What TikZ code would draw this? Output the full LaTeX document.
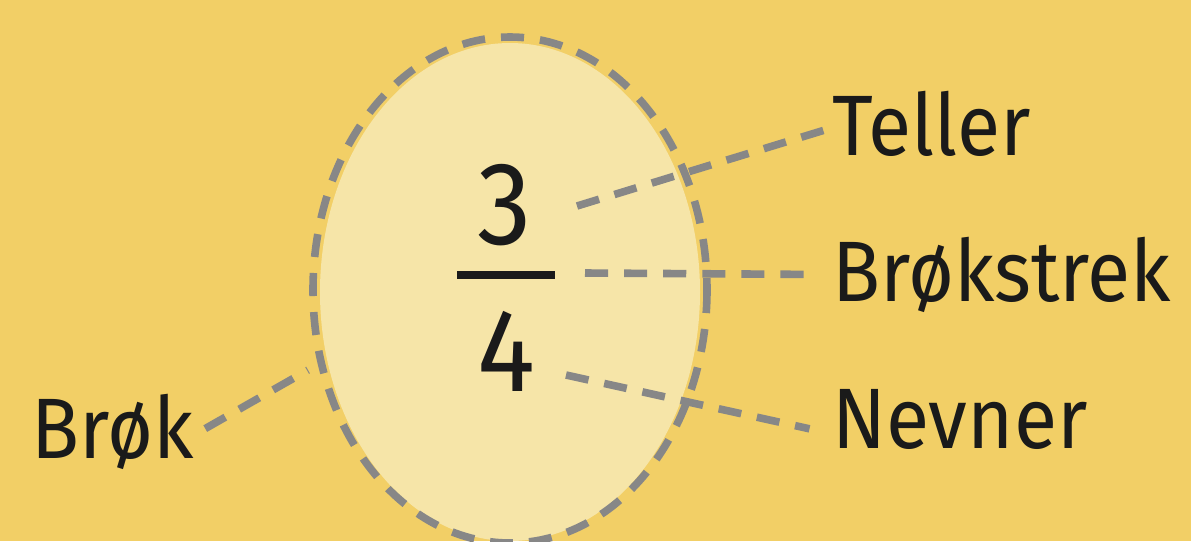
\documentclass[tikz,border=0pt]{standalone}
\usepackage{fontspec}
\setmainfont[FakeStretch=0.92]{Fira Sans}
\usetikzlibrary{positioning}
\definecolor{bgyellow}{HTML}{F2CF66}
\definecolor{paleyellow}{HTML}{F6E5A8}
\definecolor{leadergray}{HTML}{878787}
\definecolor{inkblack}{HTML}{1A1A1A}

\begin{document}
\begin{tikzpicture}[
    x=0.025cm, y=-0.025cm,
    label/.style={inner sep=0pt,font=\fontsize{61}{70}\selectfont,text=inkblack},
    digit/.style={inner sep=0pt,font=\fontsize{84}{90}\selectfont,text=inkblack},
    leader/.style={draw=leadergray,line width=5.4pt,dash pattern=on 16.4pt off 11.4pt},
  ]
    \fill[bgyellow] (0,0) rectangle (1191,541);
    \useasboundingbox (0,0) rectangle (1191,541);

    % the oval
    \fill[paleyellow] (510,292) ellipse [x radius=190, y radius=249];
    \draw[leader] (510,290) ellipse [x radius=197, y radius=253];

    % the fraction 3/4
    \node[digit] (num) at (505,205) {3};
    \node[fill=inkblack,inner sep=0pt,minimum width=2.45cm,minimum height=0.2cm] (bar) at (506,275) {};
    \node[digit] (den) at (506,351) {4};

    % labels
    \node[label,anchor=base west] (teller) at (832,155) {Teller};
    \node[label,anchor=base west] (strek) at (832,301) {Brøkstrek};
    \node[label,anchor=base west] (nevner) at (832,448) {Nevner};
    \node[label,anchor=base east] (brok) at (194,458) {Brøk};

    \coordinate (numend) at (577,206);
    \coordinate (barend) at (585,273);
    \coordinate (denend) at (566,375);
    \coordinate (ovalend) at (308,370);

    \draw[leader] (numend) -- ([xshift=-6pt,yshift=-5pt]teller.west);
    \draw[leader] (barend) -- ([xshift=-16pt]strek.west);
    \draw[leader] (denend) -- ([xshift=-16pt,yshift=-7pt]nevner.west);
    \draw[leader] ([xshift=8pt,yshift=2pt]brok.east) -- (ovalend);
\end{tikzpicture}
\end{document}
